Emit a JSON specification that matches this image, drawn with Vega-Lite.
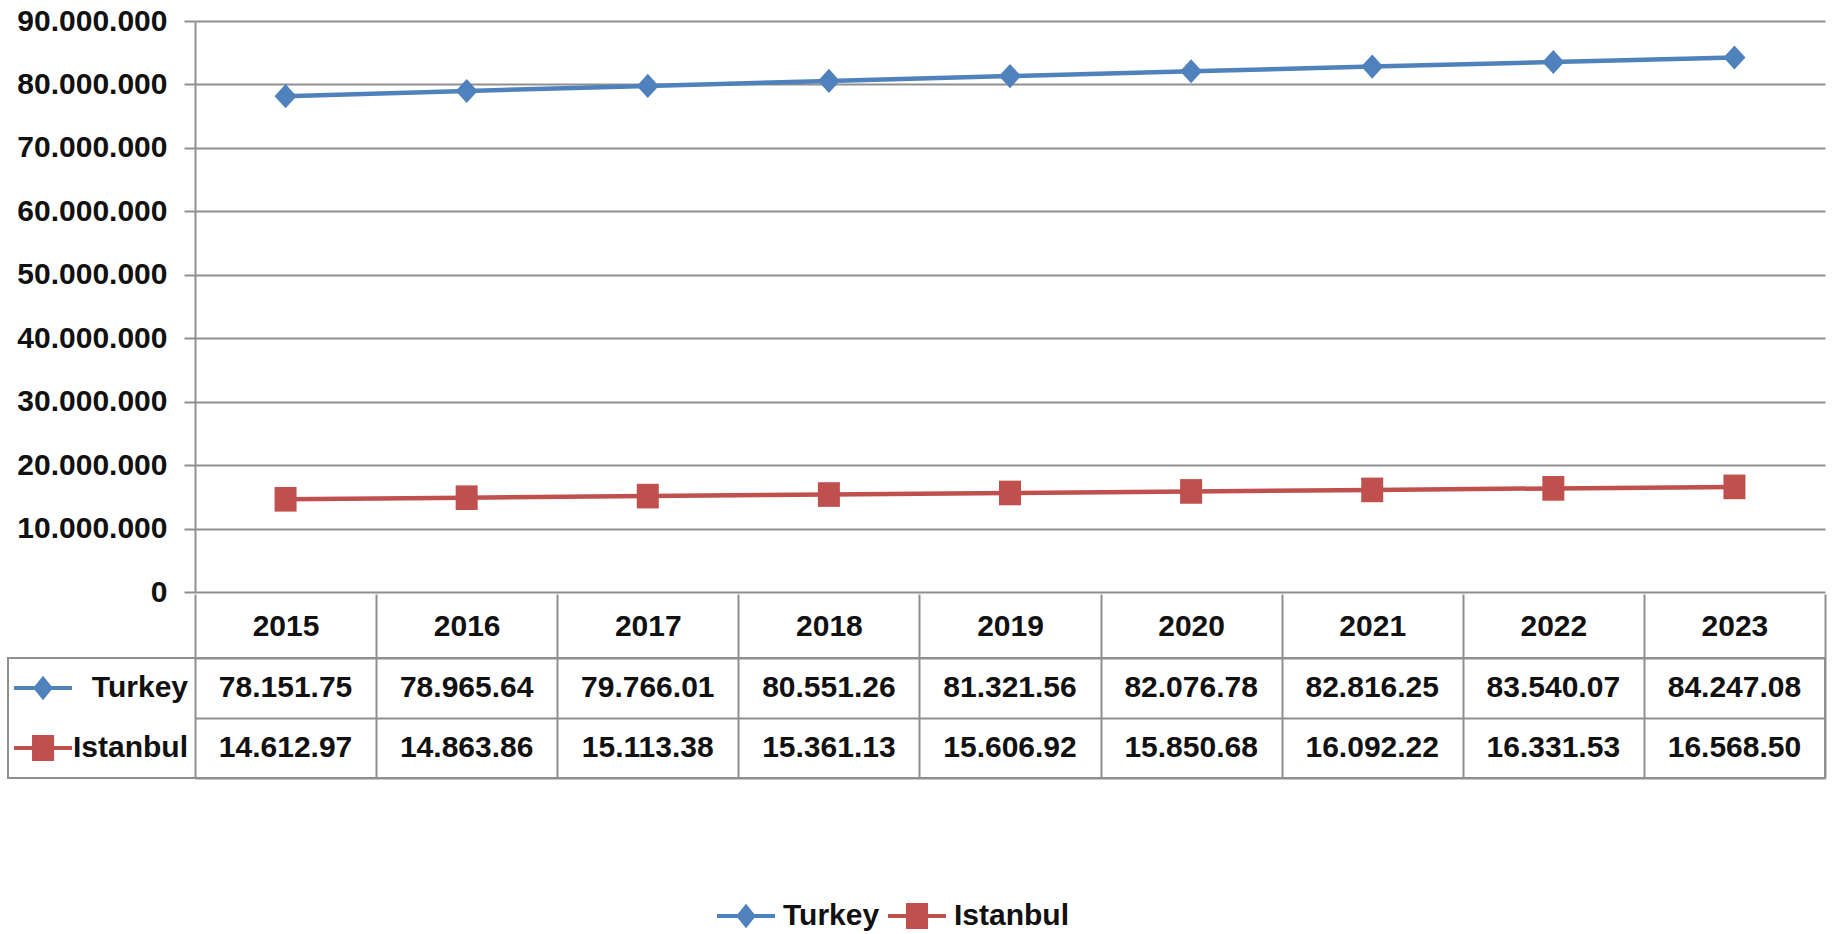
{
  "$schema": "https://vega.github.io/schema/vega-lite/v6.json",
  "padding": {"left": 7, "top": 6, "right": 5, "bottom": 0},
  "background": "white",
  "config": {
    "font": "Liberation Sans",
    "view": {"stroke": null},
    "axis": {"labelFont": "Liberation Sans"},
    "legend": {"labelFont": "Liberation Sans"}
  },
  "datasets": {
    "pop": [
      {"year": "2015", "series": "Turkey", "value": 78151750, "label": "78.151.75"},
      {"year": "2016", "series": "Turkey", "value": 78965640, "label": "78.965.64"},
      {"year": "2017", "series": "Turkey", "value": 79766010, "label": "79.766.01"},
      {"year": "2018", "series": "Turkey", "value": 80551260, "label": "80.551.26"},
      {"year": "2019", "series": "Turkey", "value": 81321560, "label": "81.321.56"},
      {"year": "2020", "series": "Turkey", "value": 82076780, "label": "82.076.78"},
      {"year": "2021", "series": "Turkey", "value": 82816250, "label": "82.816.25"},
      {"year": "2022", "series": "Turkey", "value": 83540070, "label": "83.540.07"},
      {"year": "2023", "series": "Turkey", "value": 84247080, "label": "84.247.08"},
      {"year": "2015", "series": "Istanbul", "value": 14612970, "label": "14.612.97"},
      {"year": "2016", "series": "Istanbul", "value": 14863860, "label": "14.863.86"},
      {"year": "2017", "series": "Istanbul", "value": 15113380, "label": "15.113.38"},
      {"year": "2018", "series": "Istanbul", "value": 15361130, "label": "15.361.13"},
      {"year": "2019", "series": "Istanbul", "value": 15606920, "label": "15.606.92"},
      {"year": "2020", "series": "Istanbul", "value": 15850680, "label": "15.850.68"},
      {"year": "2021", "series": "Istanbul", "value": 16092220, "label": "16.092.22"},
      {"year": "2022", "series": "Istanbul", "value": 16331530, "label": "16.331.53"},
      {"year": "2023", "series": "Istanbul", "value": 16568500, "label": "16.568.50"}
    ]
  },
  "columns": 1,
  "spacing": -15,
  "resolve": {
    "scale": {"color": "independent", "shape": "independent", "x": "independent", "y": "independent"},
    "legend": {"color": "independent", "shape": "independent"}
  },
  "concat": [
    {
      "width": 1817,
      "height": 571,
      "data": {"name": "pop"},
      "encoding": {
        "x": {"field": "year", "type": "ordinal", "scale": {"type": "point", "padding": 0.5, "range": [187, 1817]}, "axis": null},
        "y": {
          "field": "value",
          "type": "quantitative",
          "scale": {"domain": [0, 90000000], "nice": false},
          "axis": {
            "values": [0, 10000000, 20000000, 30000000, 40000000, 50000000, 60000000, 70000000, 80000000, 90000000],
            "labelExpr": "replace(replace(format(datum.value, ','), ',', '.'), ',', '.')",
            "title": null,
            "offset": -187,
            "labelFontWeight": "bold",
            "labelFontSize": 30,
            "labelColor": "#111111",
            "labelPadding": 17,
            "tickSize": 11,
            "tickColor": "#8f8f8f",
            "tickWidth": 2,
            "domainColor": "#8f8f8f",
            "domainWidth": 2,
            "grid": true,
            "gridColor": "#8f8f8f",
            "gridWidth": 2
          }
        },
        "color": {
          "field": "series",
          "type": "nominal",
          "scale": {"domain": ["Turkey", "Istanbul"], "range": ["#4F81BD", "#C0504D"]},
          "legend": null
        }
      },
      "layer": [
        {"mark": {"type": "line", "strokeWidth": 4.5}},
        {
          "mark": {"type": "point", "filled": true, "opacity": 1, "size": 484},
          "encoding": {
            "shape": {
              "field": "series",
              "type": "nominal",
              "scale": {"domain": ["Turkey", "Istanbul"], "range": ["M0,-1.1L1,0L0,1.1L-1,0Z", "M-1,-1.12H1V1.12H-1Z"]},
              "legend": null
            }
          }
        }
      ]
    },
    {
      "width": 1817,
      "height": 120,
      "view": {"stroke": "#8f8f8f", "strokeWidth": 2},
      "data": {"name": "pop"},
      "encoding": {
        "x": {
          "field": "year",
          "type": "ordinal",
          "scale": {"type": "band", "paddingInner": 0, "paddingOuter": 0, "range": [187, 1817]},
          "axis": {
            "orient": "top",
            "title": null,
            "tickBand": "extent",
            "tickSize": 64,
            "tickColor": "#8f8f8f",
            "tickWidth": 2,
            "domain": false,
            "grid": true,
            "gridColor": "#8f8f8f",
            "gridWidth": 2,
            "labelAngle": 0,
            "labelBaseline": "middle",
            "labelPadding": -32,
            "labelFontSize": 30,
            "labelFontWeight": "bold",
            "labelColor": "#111111",
            "minExtent": 64,
            "maxExtent": 64
          }
        },
        "y": {
          "field": "series",
          "type": "nominal",
          "sort": ["Turkey", "Istanbul"],
          "scale": {"paddingInner": 0, "paddingOuter": 0},
          "axis": {
            "title": null,
            "labels": false,
            "ticks": false,
            "domain": false,
            "grid": true,
            "tickBand": "extent",
            "gridColor": "#8f8f8f",
            "gridWidth": 2
          }
        }
      },
      "layer": [
        {
          "mark": {"type": "text", "fontSize": 30, "fontWeight": "bold", "color": "#111111", "baseline": "middle"},
          "encoding": {"text": {"field": "label"}}
        },
        {
          "transform": [{"filter": "datum.year == '2015'"}],
          "mark": {"type": "text", "fontSize": 30, "fontWeight": "bold", "color": "#111111", "baseline": "middle", "align": "right", "dx": -7},
          "encoding": {
            "x": {"field": "year", "type": "ordinal", "bandPosition": 0},
            "text": {"field": "series"}
          }
        },
        {
          "transform": [{"filter": "datum.year == '2015'"}],
          "mark": {"type": "point", "filled": true, "opacity": 1, "size": 3364},
          "encoding": {
            "x": {"field": "year", "type": "ordinal", "bandPosition": -0.839},
            "color": {
              "field": "series",
              "type": "nominal",
              "scale": {"domain": ["Turkey", "Istanbul"], "range": ["#4F81BD", "#C0504D"]},
              "legend": {
                "orient": "none",
                "legendX": 709,
                "legendY": 229,
                "direction": "horizontal",
                "title": null,
                "symbolSize": 3364,
                "symbolStrokeWidth": 0,
                "labelFontSize": 30,
                "labelFontWeight": "bold",
                "labelColor": "#111111",
                "labelOffset": 8,
                "columnPadding": 8
              }
            },
            "shape": {
              "field": "series",
              "type": "nominal",
              "scale": {"domain": ["Turkey", "Istanbul"], "range": ["M-1,-0.07H1V0.07H-1Z M0,-0.42L0.34,0L0,0.42L-0.34,0Z", "M-1,-0.07H1V0.07H-1Z M-0.38,-0.45H0.38V0.45H-0.38Z"]},
              "legend": {
                "orient": "none",
                "legendX": 709,
                "legendY": 229,
                "direction": "horizontal",
                "title": null,
                "symbolSize": 3364,
                "symbolStrokeWidth": 0,
                "labelFontSize": 30,
                "labelFontWeight": "bold",
                "labelColor": "#111111",
                "labelOffset": 8,
                "columnPadding": 8
              }
            }
          }
        }
      ]
    }
  ]
}
